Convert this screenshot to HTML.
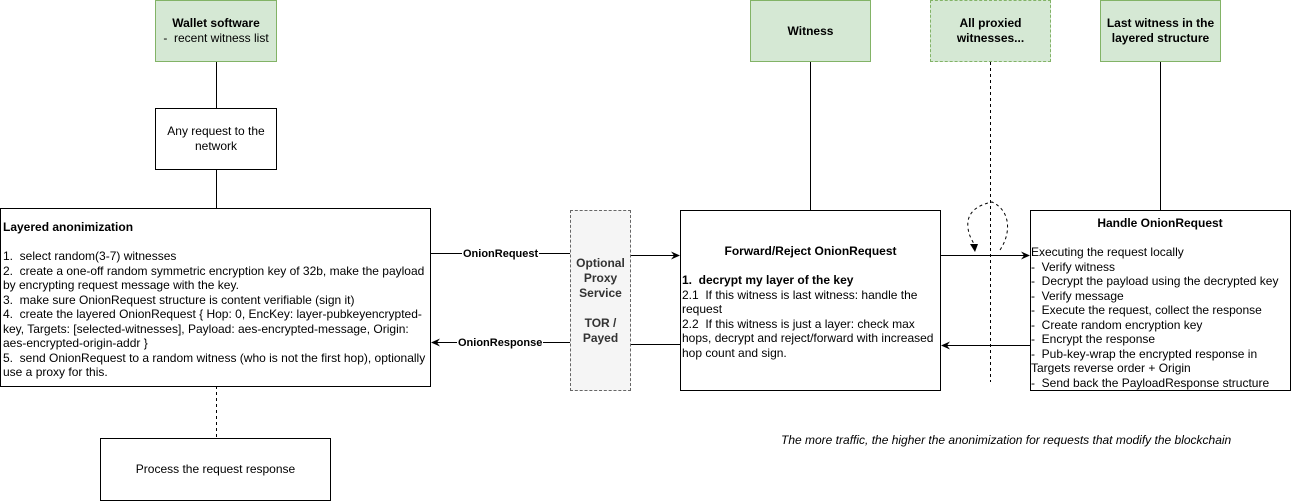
<!DOCTYPE html>
<html><head><meta charset="utf-8"><style>
body{margin:0;width:1291px;height:501px;background:#fff;position:relative;overflow:hidden;font-family:"Liberation Sans",Arial,sans-serif;font-size:12px;color:#000}
.b{position:absolute;box-sizing:border-box;border:1px solid #000;background:#fff}
.g{background:#d5e8d4;border-color:#82b366;display:flex;align-items:center;justify-content:center;text-align:center;font-weight:bold;line-height:15px}
.c{display:flex;align-items:center;justify-content:center;text-align:center;line-height:15px}
.t{position:absolute;line-height:14.5px}
.lbl{position:absolute;background:#fff;font-size:11px;font-weight:bold;padding:0 1px;line-height:12px}
svg{position:absolute;left:0;top:0}
</style></head><body>
<svg width="1291" height="501">
<defs><marker id="a" markerWidth="10" markerHeight="10" refX="8" refY="5" orient="auto" markerUnits="userSpaceOnUse"><path d="M0,1 L9,5 L0,9 L3,5z" fill="#000"/></marker></defs>
<g stroke="#000" stroke-width="1" fill="none">
<line x1="216.5" y1="62" x2="216.5" y2="108"/>
<line x1="216.5" y1="170" x2="216.5" y2="208"/>
<line x1="216.5" y1="386" x2="216.5" y2="438" stroke-dasharray="3 3"/>
<line x1="810.5" y1="62" x2="810.5" y2="210"/>
<line x1="1160.5" y1="62" x2="1160.5" y2="210"/>
<line x1="990.5" y1="62" x2="990.5" y2="382" stroke-dasharray="3 3"/>
<line x1="430" y1="253.5" x2="570" y2="253.5"/>
<line x1="630" y1="255.5" x2="679" y2="255.5" marker-end="url(#a)"/>
<line x1="570" y1="342.5" x2="432" y2="342.5" marker-end="url(#a)"/>
<line x1="680" y1="344.5" x2="630" y2="344.5"/>
<line x1="940" y1="255.5" x2="1029" y2="255.5" marker-end="url(#a)"/>
<line x1="1030" y1="345.5" x2="942" y2="345.5" marker-end="url(#a)"/>
<path d="M1000,250 C1012,232 1010,210 992,202 C978,205 966,212 968,228 C969,236 972,240 974,244" stroke-dasharray="3 3"/>
</g>
<path d="M970,244 L978,244 L975,252z" fill="#000"/>
</svg>
<div class="b g" style="left:155px;top:0;width:122px;height:62px;flex-direction:column"><span>Wallet software</span><span style="font-weight:normal">-&nbsp; recent witness list</span></div>
<div class="b c" style="left:155px;top:108px;width:122px;height:62px">Any request to the network</div>
<div class="b" style="left:0;top:208px;width:431px;height:179px"></div>
<div class="t" style="left:3px;top:220px;width:426px"><b>Layered anonimization</b><br><br>1.&nbsp; select random(3-7) witnesses<br>2.&nbsp; create a one-off random symmetric encryption key of 32b, make the payload by encrypting request message with the key.<br>3.&nbsp; make sure OnionRequest structure is content verifiable (sign it)<br>4.&nbsp; create the layered OnionRequest { Hop: 0, EncKey: layer-pubkeyencrypted-key, Targets: [selected-witnesses], Payload: aes-encrypted-message, Origin: aes-encrypted-origin-addr }<br>5.&nbsp; send OnionRequest to a random witness (who is not the first hop), optionally use a proxy for this.</div>
<div class="b c" style="left:100px;top:438px;width:231px;height:63px">Process the request response</div>
<div class="b c" style="left:570px;top:210px;width:61px;height:181px;background:#f5f5f5;border:1px dashed #666;font-weight:bold;color:#333;flex-direction:column"><span>Optional Proxy Service</span><br><span>TOR / Payed</span></div>
<div class="lbl" style="left:462px;top:248px">OnionRequest</div>
<div class="lbl" style="left:457px;top:337px">OnionResponse</div>
<div class="b" style="left:680px;top:210px;width:261px;height:181px"></div>
<div class="t" style="left:682px;top:244px;width:257px"><div style="text-align:center;font-weight:bold">Forward/Reject OnionRequest</div><br><b>1.&nbsp; decrypt my layer of the key</b><br>2.1&nbsp; If this witness is last witness: handle the request<br>2.2&nbsp; If this witness is just a layer: check max hops, decrypt and reject/forward with increased hop count and sign.</div>
<div class="b g" style="left:750px;top:0;width:121px;height:62px">Witness</div>
<div class="b g" style="left:930px;top:0;width:121px;height:62px;border-style:dashed">All proxied<br>witnesses...</div>
<div class="b g" style="left:1100px;top:0;width:121px;height:62px">Last witness in the<br>layered structure</div>
<div class="b" style="left:1030px;top:210px;width:261px;height:181px"></div>
<div class="t" style="left:1031px;top:216px;width:258px"><div style="text-align:center;font-weight:bold">Handle OnionRequest</div><br>Executing the request locally<br>-&nbsp; Verify witness<br>-&nbsp; Decrypt the payload using the decrypted key<br>-&nbsp; Verify message<br>-&nbsp; Execute the request, collect the response<br>-&nbsp; Create random encryption key<br>-&nbsp; Encrypt the response<br>-&nbsp; Pub-key-wrap the encrypted response in Targets reverse order + Origin<br>-&nbsp; Send back the PayloadResponse structure</div>
<div class="t" style="left:781px;top:433px;font-style:italic">The more traffic, the higher the anonimization for requests that modify the blockchain</div>
</body></html>
